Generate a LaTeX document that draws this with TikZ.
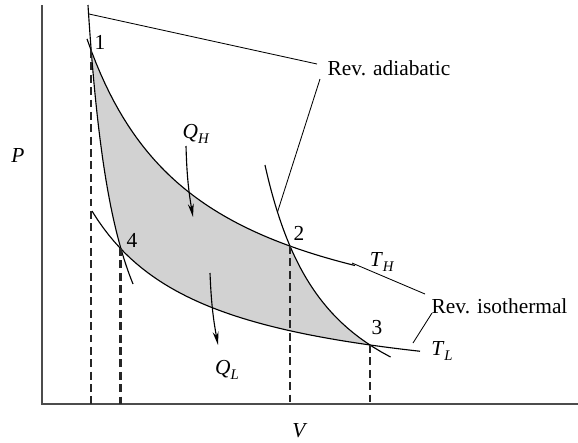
\documentclass[tikz,border=0pt]{standalone}
\usepackage{fontspec}
\setmainfont{Liberation Serif}
\usetikzlibrary{arrows.meta,calc}
\newcommand{\subit}[2]{\textit{#1}\raisebox{-0.5ex}{\fontsize{10.5}{12}\selectfont\textit{#2}}}
\tikzset{
  axisline/.style={line width=1.3pt, draw=black!70},
  curve/.style={line width=0.8pt, draw=black},
  proj/.style={line width=1.9pt, draw=black!85, dash pattern=on 5.6pt off 3.2pt},
  lead/.style={line width=0.6pt, draw=black},
  heat/.style={-{Stealth[length=9.5pt,width=4.2pt]}, line width=0.8pt},
  cyc/.style={fill=gray!35},
  lbl/.style={font=\fontsize{15.2}{18}\selectfont, inner sep=1pt},
  declare function={
    th(\x)=359.6-356.91/((\x+24.3)/100);
    tl(\x)=400.8-219.94/((\x+23.9)/100);
    la(\y)=58.5+136.13/((466.7-\y)/100);
    ra(\y)=200.1+188.92/((456.2-\y)/100);
  },
}
\begin{document}
\begin{tikzpicture}[x=0.025cm, y=-0.025cm]
    \useasboundingbox (0,0) rectangle (578,442);
    % cycle area
    \fill[cyc] plot[domain=91:290, samples=50] (\x,{th(\x)})
      -- plot[domain=246:345, samples=30] ({ra(\x)},\x)
      -- plot[domain=370:120, samples=50] (\x,{tl(\x)})
      -- plot[domain=248:50, samples=50] ({la(\x)},\x) -- cycle;
    % axes
    \coordinate (org) at (42,404);
    \coordinate (ytop) at (42,5);
    \coordinate (xend) at (578,404);
    \draw[axisline] (ytop) -- (org) -- (xend);
    \node[lbl] (plab) at (18,155) {\textit{P}};
    \node[lbl] (vlab) at (300,431) {\textit{V}};
    % isotherms and adiabats
    \draw[curve] plot[domain=87:355, samples=60] (\x,{th(\x)});
    \draw[curve] plot[domain=92:420, samples=60] (\x,{tl(\x)});
    \draw[curve] plot[domain=5:284, samples=60] ({la(\x)},\x);
    \draw[curve] plot[domain=165:357, samples=40] ({ra(\x)},\x);
    % state points
    \coordinate (p1) at (91,50);
    \coordinate (p2) at (290,246);
    \coordinate (p3) at (370,345);
    \coordinate (p4) at (120.5,248);
    \draw[proj] (p1) -- (p1 |- org);
    \draw[proj] (p4) -- (p4 |- org);
    \draw[proj] (p2) -- (p2 |- org);
    \draw[proj] (p3) -- (p3 |- org);
    \node[lbl] (n1) at (100,42) {1};
    \node[lbl] (n2) at (299,233) {2};
    \node[lbl] (n3) at (377,328) {3};
    \node[lbl] (n4) at (132,240) {4};
    \node[lbl] (thlab) at (382,262) {\subit{T}{H}};
    \node[lbl] (tllab) at (442,351) {\subit{T}{L}};
    % heat flows
    \node[lbl] (qh) at (196,134) {\subit{Q}{H}};
    \node[lbl] (ql) at (227,370) {\subit{Q}{L}};
    \coordinate (qhs) at (186,146);
    \coordinate (qhe) at (193,217);
    \coordinate (qls) at (210,273);
    \coordinate (qle) at (218,345);
    \draw[heat] (qhs) to[bend right=4] (qhe);
    \draw[heat] (qls) to[bend right=4] (qle);
    % leaders
    \node[lbl, anchor=west] (adi) at (326,68) {Rev. adiabatic};
    \node[lbl, anchor=west] (iso) at (430,306) {Rev. isothermal};
    \coordinate (a1) at (89,14);
    \coordinate (a2) at (277.5,212);
    \coordinate (i1) at (352,263);
    \coordinate (i2) at (413,343);
    \draw[lead] (a1) -- ($(adi.west)+(-9,-4)$);
    \draw[lead] (a2) -- ($(adi.west)+(-6,11)$);
    \draw[lead] (i1) -- ($(iso.west)+(-5,-12)$);
    \draw[lead] (i2) -- ($(iso.west)+(2,7)$);
\end{tikzpicture}
\end{document}
